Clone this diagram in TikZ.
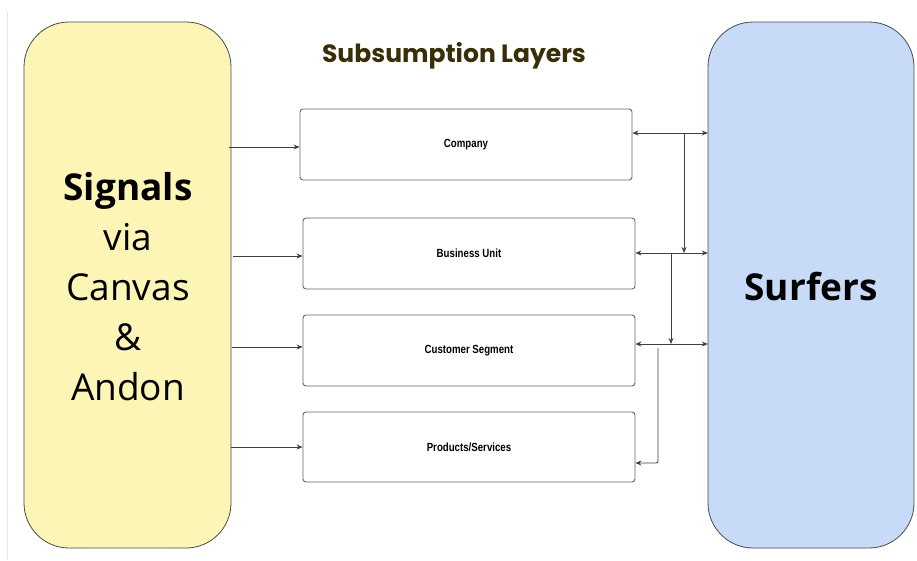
\documentclass[tikz,border=0pt]{standalone}
\usepackage{fontspec}
\setmainfont{Open Sans}
\newfontfamily\titlefont{Poppins}
\newfontfamily\lblfont{Liberation Sans}[FakeStretch=0.82]
\usetikzlibrary{arrows.meta}
\definecolor{sigfill}{HTML}{FDF5B6}
\definecolor{surffill}{HTML}{C7DAF8}
\definecolor{titlecol}{HTML}{3A2E08}
\definecolor{edgecol}{HTML}{4A4A4A}
\tikzset{
  bigbox/.style={draw=edgecol, line width=0.8pt, rounded corners=45pt},
  layerbox/.style={draw=edgecol!85, line width=0.9pt, rounded corners=3pt, fill=white},
  lbl/.style={font=\lblfont\bfseries\fontsize{11.8}{14}\selectfont},
  conn/.style={draw=black!75, line width=0.8pt, -{Stealth[length=6pt,width=5pt]}},
  dconn/.style={draw=black!75, line width=0.8pt, {Stealth[length=6pt,width=5pt]}-{Stealth[length=6pt,width=5pt]}},
}
\begin{document}
\begin{tikzpicture}[x=1pt,y=-1pt]
\useasboundingbox (0,0) rectangle (917,560);
\fill[white] (0,0) rectangle (917,560);
\draw[gray!20, line width=0.8pt] (7,12) -- (7,560);

% big side boxes
\draw[bigbox, fill=sigfill] (24,22) rectangle (231,548);
\draw[bigbox, fill=surffill] (708,22) rectangle (914,548);
\node[inner sep=0pt, minimum width=207pt, minimum height=526pt] (sig) at (127.5,285) {};
\node[inner sep=0pt, minimum width=206pt, minimum height=526pt] (surf) at (811,285) {};

\node[align=center, font=\fontsize{37}{50}\selectfont] (sigtext) at (128,287)
  {\textbf{Signals}\\via\\Canvas\\\&\\Andon};
\node[font=\bfseries\fontsize{37}{44}\selectfont] (surftext) at (811,287) {Surfers};

\node[font=\titlefont\bfseries\fontsize{25}{30}\selectfont, text=titlecol] (title) at (454,56) {Subsumption Layers};

% layer boxes
\node[layerbox, lbl, minimum width=332pt, minimum height=71pt] (comp) at (466,144.5) {Company};
\node[layerbox, lbl, minimum width=332pt, minimum height=71pt] (bu) at (469,253.5) {Business Unit};
\node[layerbox, lbl, minimum width=332pt, minimum height=71pt] (cs) at (469,350.5) {Customer Segment};
\node[layerbox, lbl, minimum width=332pt, minimum height=70pt] (ps) at (469,447) {Products/Services};

% left arrows
\coordinate (l1) at (229,147);
\coordinate (l2) at (233,256);
\coordinate (l3) at (232,347);
\coordinate (l4) at (231,447);
\draw[conn] (l1) -- (comp.west |- l1);
\draw[conn] (l2) -- (bu.west |- l2);
\draw[conn] (l3) -- (cs.west |- l3);
\draw[conn] (l4) -- (ps.west |- l4);

% right connectors
\coordinate (r1) at (684,133);
\coordinate (r2) at (671,253);
\coordinate (r3) at (658,344);
\coordinate (r3b) at (658,348);
\coordinate (r4) at (658,463);
\draw[dconn] (comp.east |- r1) -- (surf.west |- r1);
\draw[dconn] (bu.east |- r2) -- (surf.west |- r2);
\draw[dconn] (cs.east |- r3) -- (surf.west |- r3);
\draw[conn] (r1) -- (r1 |- r2);
\draw[conn] (r2) -- (r2 |- r3);
\draw[conn, rounded corners=2pt] (r3b) -- (r4) -- (ps.east |- r4);
\end{tikzpicture}
\end{document}
